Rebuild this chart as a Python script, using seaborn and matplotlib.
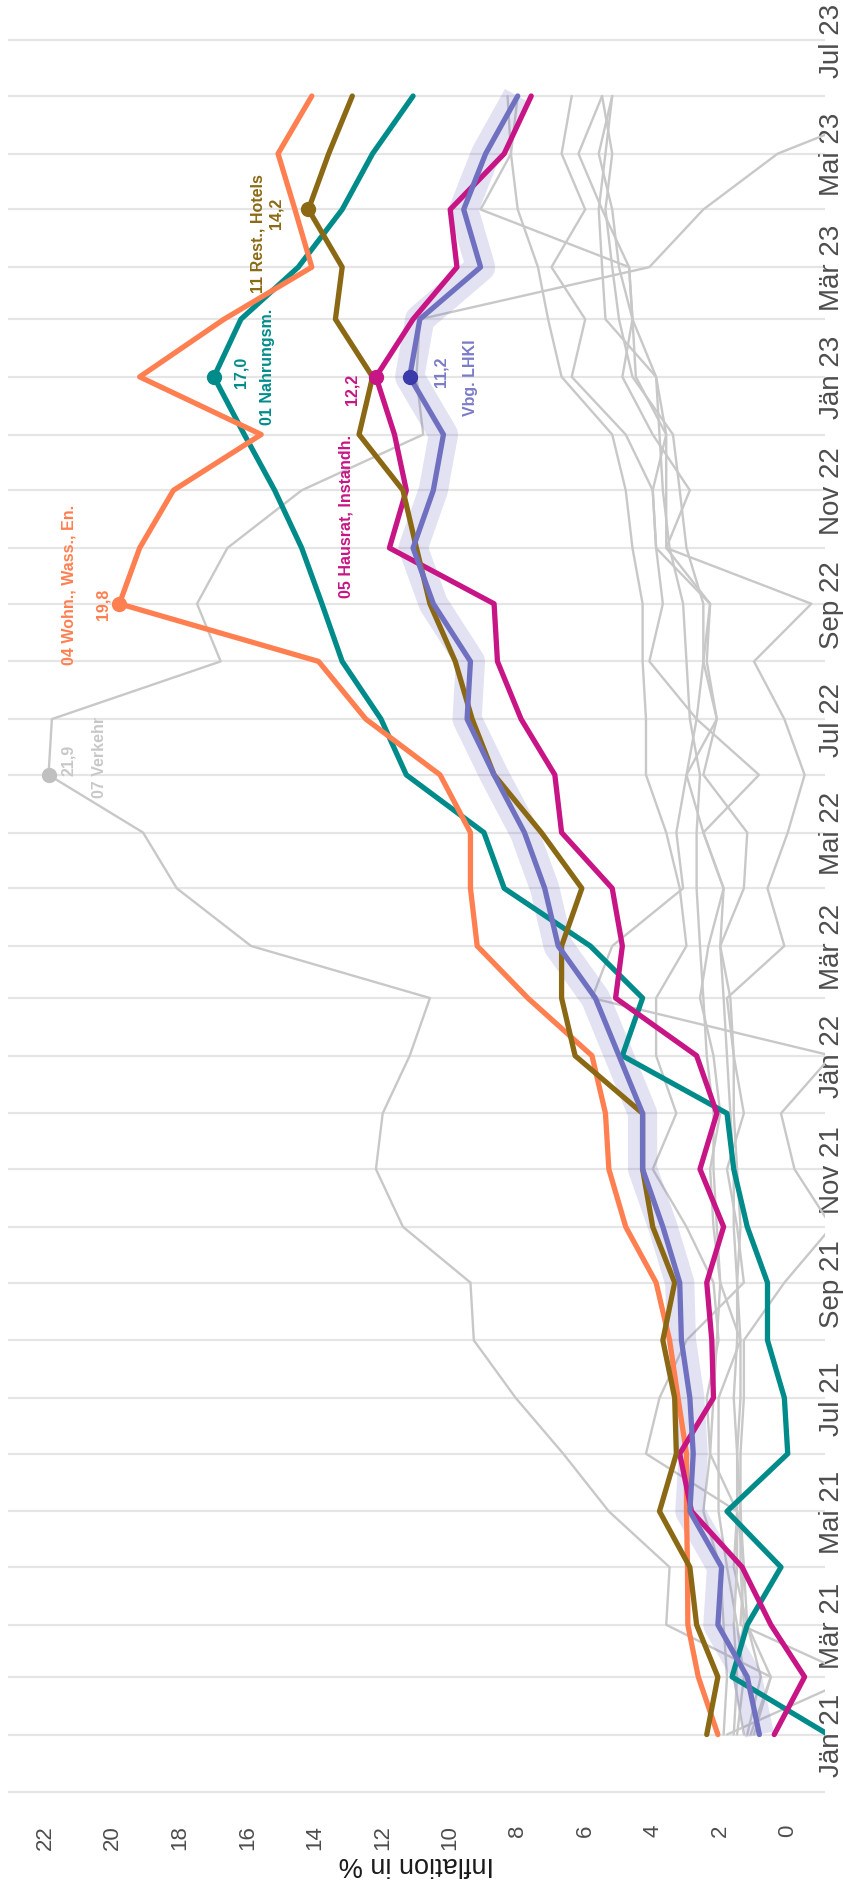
import pandas as pd
import matplotlib.pyplot as plt
import seaborn as sns

# monthly inflation rates, Jan 2021 .. Jun 2023
months = pd.date_range("2021-01-01", "2023-06-01", freq="MS")

nahrung = [-1.2, 1.65, 1.2, 0.2, 1.8, 0.0, 0.1, 0.6, 0.6, 1.2, 1.6, 1.8,
           4.9, 4.3, 5.85, 8.4, 9.0, 11.3, 12.05, 13.2, 13.8, 14.4, 15.2, 16.1,
           17.0, 16.2, 14.5, 13.2, 12.3, 11.1]
wohnen = [2.07, 2.65, 2.96, 2.97, 3.0, 3.0, 3.25, 3.5, 3.9, 4.8, 5.3, 5.4,
          5.8, 7.7, 9.2, 9.4, 9.4, 10.3, 12.5, 13.9, 19.8, 19.2, 18.2, 15.6,
          19.2, 16.7, 14.1, 14.6, 15.1, 14.1]
hausrat = [0.4, -0.5, 0.5, 1.35, 2.85, 3.2, 2.2, 2.25, 2.4, 1.9, 2.6, 2.1,
           2.7, 5.1, 4.9, 5.2, 6.7, 6.9, 7.9, 8.6, 8.7, 11.8, 11.3, 11.65,
           12.2, 11.1, 9.8, 10.0, 8.4, 7.6]
rest_hotels = [2.4, 2.07, 2.7, 2.9, 3.8, 3.3, 3.35, 3.7, 3.35, 4.0, 4.3, 4.3,
               6.3, 6.7, 6.7, 6.1, 7.3, 8.7, 9.35, 9.85, 10.6, 11.0, 11.4, 12.7,
               12.3, 13.4, 13.2, 14.2, 13.6, 12.9]
lhki = [0.84, 1.2, 2.07, 1.96, 2.9, 2.8, 2.9, 3.15, 3.2, 3.7, 4.3, 4.3,
        5.0, 5.7, 6.8, 7.2, 7.8, 8.7, 9.5, 9.4, 10.5, 11.1, 10.5, 10.2,
        11.2, 10.9, 9.1, 9.6, 8.95, 8.0]
verkehr = [1.0, 0.5, 3.6, 3.5, 5.3, 6.65, 8.06, 9.3, 9.4, 11.4, 12.2, 12.0,
           11.2, 10.6, 15.9, 18.1, 19.1, 21.9, 21.8, 16.8, 17.5, 16.6, 14.4, 10.8,
           11.0, 10.9, 4.1, 2.5, 0.3, -4.0]

# remaining COICOP groups (grey background lines)
alkohol = [1.9, 1.8, 1.9, 2.0, 2.5, 2.3, 2.4, 2.05, 2.2, 3.0, 4.0, 3.3,
           3.9, 3.9, 3.0, 3.2, 3.6, 4.2, 4.2, 4.3, 4.3, 4.6, 4.8, 5.2,
           6.7, 7.1, 7.4, 8.0, 8.2, 8.3]
bekleidung = [1.5, 1.3, 1.5, 1.8, 2.05, 2.05, 2.05, 1.4, 2.0, 2.2, 2.3, 2.0,
              2.2, 2.6, 2.35, 1.9, 2.5, 3.0, 2.7, 4.1, 3.7, 3.9, 4.0, 4.8,
              6.4, 6.0, 7.0, 6.0, 6.7, 6.4]
gesundheit = [1.2, 0.8, 1.2, 1.6, 1.5, 4.2, 3.8, 3.0, 1.3, 1.5, 1.8, 1.3,
              1.6, 1.7, 2.0, 1.3, 1.2, 2.5, 2.1, 2.5, 2.3, 3.6, 2.9, 4.0,
              4.9, 4.6, 4.7, 5.5, 6.2, 5.5]
kommunikation = [1.8, -2.0, 1.4, 1.3, 1.4, 1.4, 1.3, 1.3, 0.1, -1.3, -0.2, 0.2,
                 -1.3, 5.8, 5.2, 3.1, 3.3, 3.0, 2.1, 2.4, 2.3, 3.9, 4.0, 3.6,
                 4.5, 4.6, 4.7, 9.1, 8.2, 8.0]
freizeit = [1.6, 1.5, 1.6, 1.5, 1.5, 1.5, 1.4, 1.4, 1.5, 1.4, 1.5, 1.6,
            1.6, 1.8, 0.1, 0.6, 0.0, -0.5, 0.1, 1.0, -0.7, 3.6, 3.6, 3.6,
            3.9, 4.6, 5.0, 5.2, 5.6, 5.2]
bildung = [1.3, 1.6, 1.3, 1.4, 1.4, 1.5, 1.6, 1.5, 1.5, 1.6, 1.6, 1.7,
           1.8, 1.9, 2.0, 1.9, 2.5, 0.85, 2.7, 2.5, 2.5, 3.0, 3.2, 3.4,
           4.6, 5.0, 5.2, 5.4, 5.2, 5.5]
sonstige = [1.1, 0.5, 1.2, 1.3, 1.5, 2.3, 2.2, 2.1, 2.0, 2.1, 2.2, 2.2,
            2.4, 2.5, 2.6, 2.7, 2.7, 2.6, 2.9, 3.0, 3.1, 3.5, 3.7, 3.8,
            3.9, 5.4, 5.5, 5.6, 5.4, 5.2]

grey_series = [alkohol, bekleidung, gesundheit, kommunikation, freizeit,
               bildung, sonstige, verkehr]

highlight = {
    "01 Nahrungsm.": (nahrung, "#008B8B", "2023-01-01"),
    "04 Wohn., Wass., En.": (wohnen, "#FF7F50", "2022-09-01"),
    "05 Hausrat, Instandh.": (hausrat, "#C71585", "2023-01-01"),
    "11 Rest., Hotels": (rest_hotels, "#8B6914", "2023-04-01"),
}

# label offsets (value, months) relative to the marked point
label_pos = {
    "01 Nahrungsm.": ((-0.8, 0.1), (-1.6, 0.2)),
    "04 Wohn., Wass., En.": ((0.5, 0.0), (1.5, 0.35)),
    "05 Hausrat, Instandh.": ((0.7, -0.2), (0.9, -2.45)),
    "11 Rest., Hotels": ((0.95, -0.05), (1.5, -0.4)),
    "Vbg. LHKI": ((-0.93, 0.1), (-1.8, 0.0)),
    "07 Verkehr": ((-0.6, 0.27), (-1.5, 0.33)),
}

sns.set_style("white")
plt.rcParams["font.family"] = ["Liberation Sans", "DejaVu Sans"]

fig = plt.figure(figsize=(8.43, 18.99), dpi=100)
ax = fig.add_axes([0.0095, 0.042, 0.969, 0.950])

for s in grey_series:
    sns.lineplot(x=s, y=months, orient="y", color="#C8C8C8", linewidth=1.7,
                 ax=ax, zorder=2)

# LHKI band + line
sns.lineplot(x=lhki, y=months, orient="y", color="#7070C0", alpha=0.2,
             linewidth=21, solid_capstyle="butt", ax=ax, zorder=2.5)

for name, (vals, col, _) in highlight.items():
    sns.lineplot(x=vals, y=months, orient="y", color=col, linewidth=3.8,
                 ax=ax, zorder=3)
sns.lineplot(x=lhki, y=months, orient="y", color="#7070C0", linewidth=3.8,
             ax=ax, zorder=3.2)


def mark(vals, when, name, dot_col, txt_col):
    i = list(months).index(pd.Timestamp(when))
    v, d = vals[i], months[i]
    ax.plot(v, d, "o", color=dot_col, markersize=10, zorder=4)
    (dv1, dm1), (dv2, dm2) = label_pos[name]
    t1 = d + pd.Timedelta(days=30.4 * dm1)
    t2 = d + pd.Timedelta(days=30.4 * dm2)
    ax.text(v + dv1, t1, f"{v:.1f}".replace(".", ","), rotation=90,
            ha="center", va="center", color=txt_col, fontsize=11.5,
            fontweight="bold", zorder=5)
    ax.text(v + dv2, t2, name, rotation=90, ha="center", va="center",
            color=txt_col, fontsize=11.5, fontweight="bold", zorder=5)


for name, (vals, col, when) in highlight.items():
    mark(vals, when, name, col, col)
mark(lhki, "2023-01-01", "Vbg. LHKI", "#3A3AAA", "#7B7BC8")
mark(verkehr, "2022-06-01", "07 Verkehr", "#C0C0C0", "#C8C8C8")

# axes: values run right-to-left, time bottom-to-top
ax.set_xlim(23.1, -1.1)
ax.set_ylim(pd.Timestamp("2020-11-17"), pd.Timestamp("2023-07-15"))

abbr = {1: "Jän", 3: "Mär", 5: "Mai", 7: "Jul", 9: "Sep", 11: "Nov"}
tick_dates = pd.date_range("2021-01-01", "2023-07-01", freq="2MS")
ax.set_yticks(tick_dates)
ax.set_yticklabels([f"{abbr[d.month]} {d.year % 100}" for d in tick_dates])
ax.set_yticks(pd.date_range("2020-12-01", "2023-07-01", freq="MS"), minor=True)
ax.yaxis.tick_right()
ax.tick_params(axis="y", which="both", length=0, labelrotation=90,
               labelsize=20, labelcolor="#4D4D4D", pad=-4)
for lbl in ax.get_yticklabels():
    lbl.set_va("center")

ax.set_xticks(range(0, 23, 2))
ax.tick_params(axis="x", length=0, labelrotation=90, labelsize=16,
               labelcolor="#4D4D4D", pad=4)
ax.set_xlabel("Inflation in %", rotation=180, fontsize=19.5, color="#1A1A1A",
              labelpad=1)
ax.set_ylabel("")

ax.grid(axis="y", which="both", color="#E5E5E5", linewidth=1.6)
ax.grid(axis="x", visible=False)
ax.set_axisbelow(True)
sns.despine(ax=ax, left=True, bottom=True)

fig.savefig("out.png", dpi=100)
